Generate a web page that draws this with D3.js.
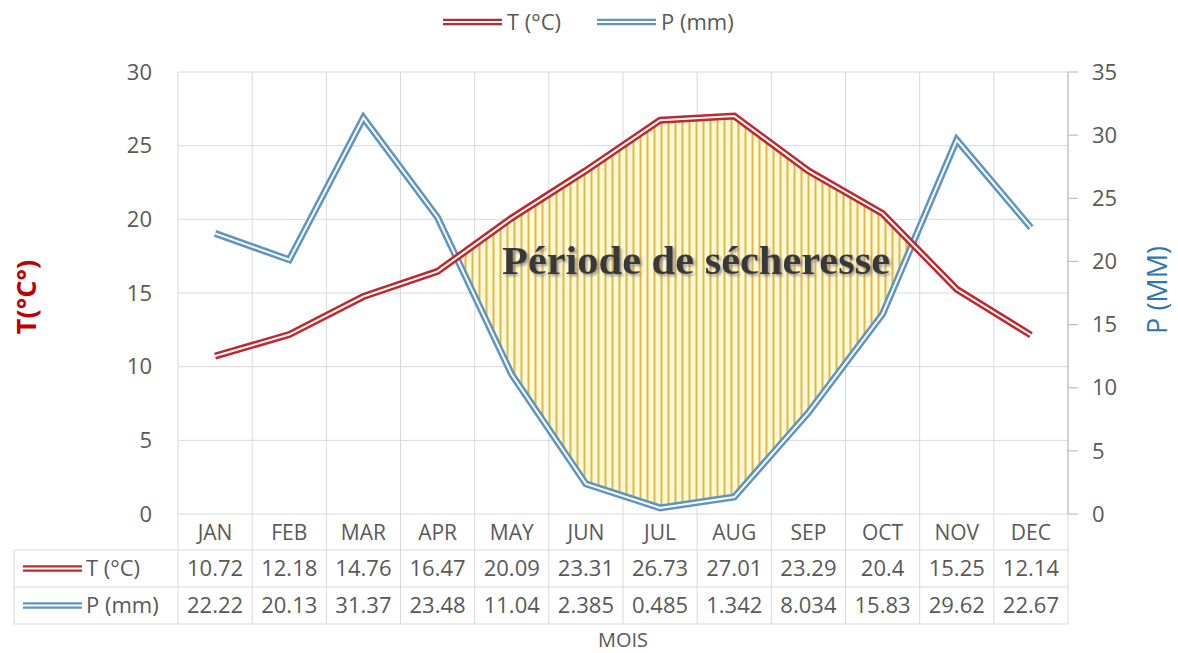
<!DOCTYPE html>
<html><head><meta charset="utf-8">
<script src="https://cdn.jsdelivr.net/npm/d3@7/dist/d3.min.js"></script>
<style>
html,body{margin:0;padding:0;background:#fff;}
svg{display:block;font-family:"Open Sans",sans-serif;}
</style></head>
<body>
<svg id="c" width="1178" height="653"></svg>
<script>
const months = ["JAN","FEB","MAR","APR","MAY","JUN","JUL","AUG","SEP","OCT","NOV","DEC"];
const tempC = [10.72,12.18,14.76,16.47,20.09,23.31,26.73,27.01,23.29,20.4,15.25,12.14];
const precip = [22.22,20.13,31.37,23.48,11.04,2.385,0.485,1.342,8.034,15.83,29.62,22.67];
const tempLabels = ["10.72","12.18","14.76","16.47","20.09","23.31","26.73","27.01","23.29","20.4","15.25","12.14"];
const precipLabels = ["22.22","20.13","31.37","23.48","11.04","2.385","0.485","1.342","8.034","15.83","29.62","22.67"];
const leftTicks = [0,5,10,15,20,25,30];
const rightTicks = [0,5,10,15,20,25,30,35];

const RED = "#c0282d", BLUE = "#5e95c2", TXT = "#595959", GRID = "#d9d9d9";
const svg = d3.select("#c");
const L = 178, R = 1068, T0 = 72, B0 = 514;
const x = d3.scaleBand().domain(months).range([L, R]).padding(0);
const cx = m => x(m) + x.bandwidth()/2;
const yL = d3.scaleLinear().domain([0,30]).range([B0, T0]);
const yR = d3.scaleLinear().domain([0,35]).range([B0, T0]);

// defs
const defs = svg.append("defs");
const pat = defs.append("pattern").attr("id","stripes").attr("patternUnits","userSpaceOnUse")
  .attr("width",7).attr("height",10);
pat.append("rect").attr("width",7).attr("height",10).attr("fill","#fffad6");
pat.append("line").attr("x1",3.5).attr("x2",3.5).attr("y1",0).attr("y2",10)
  .attr("stroke","#e2b64a").attr("stroke-width",2);
const f = defs.append("filter").attr("id","sh").attr("x","-10%").attr("y","-30%").attr("width","120%").attr("height","160%");
f.append("feDropShadow").attr("dx",2).attr("dy",2).attr("stdDeviation",1.6).attr("flood-color","#7a7a7a").attr("flood-opacity",0.8);

// horizontal gridlines
svg.append("g").selectAll("line").data(leftTicks).join("line")
  .attr("x1",L).attr("x2",R).attr("y1",d=>yL(d)).attr("y2",d=>yL(d))
  .attr("stroke",GRID).attr("stroke-width",1);

// table geometry
const rowTops = [514, 550, 587, 624];
const tblLeft = 14;

// vertical gridlines (plot + table)
const bounds = months.map(m => x(m)).concat([R]);
svg.append("g").selectAll("line").data(bounds).join("line")
  .attr("x1",d=>d).attr("x2",d=>d).attr("y1",T0).attr("y2",rowTops[3])
  .attr("stroke",GRID).attr("stroke-width",1);
[rowTops[1], rowTops[2], rowTops[3]].forEach(yv => {
  svg.append("line").attr("x1",tblLeft).attr("x2",R).attr("y1",yv).attr("y2",yv)
    .attr("stroke",GRID).attr("stroke-width",1.2);
});
svg.append("line").attr("x1",tblLeft).attr("x2",tblLeft).attr("y1",rowTops[1]).attr("y2",rowTops[3])
  .attr("stroke",GRID).attr("stroke-width",1.2);

// dry period area: between T (left scale) and P (right scale) where T is above P
const ptsT = months.map((m,i)=>[cx(m), yL(tempC[i])]);
const ptsP = months.map((m,i)=>[cx(m), yR(precip[i])]);
const diff = months.map((m,i)=> ptsT[i][1] - ptsP[i][1]);
let segs = [], cur = null;
for (let i=0;i<months.length;i++){
  if (diff[i] < 0){
    if (!cur){
      cur = {top:[], bot:[]};
      if (i>0){
        const t = diff[i-1]/(diff[i-1]-diff[i]);
        cur.top.push([ptsT[i-1][0] + t*(ptsT[i][0]-ptsT[i-1][0]), ptsT[i-1][1] + t*(ptsT[i][1]-ptsT[i-1][1])]);
      }
    }
    cur.top.push(ptsT[i]); cur.bot.push(ptsP[i]);
    if (i<months.length-1 && diff[i+1] >= 0){
      const t = diff[i]/(diff[i]-diff[i+1]);
      cur.top.push([ptsT[i][0] + t*(ptsT[i+1][0]-ptsT[i][0]), ptsT[i][1] + t*(ptsT[i+1][1]-ptsT[i][1])]);
      segs.push(cur); cur = null;
    }
  }
}
if (cur) segs.push(cur);
segs.forEach(s=>{
  const poly = s.top.concat(s.bot.slice().reverse());
  svg.append("path").attr("d", d3.line()(poly)+"Z").attr("fill","url(#stripes)");
});

// lines (double: colored outer, white inner)
function dbl(pts, color){
  const g = svg.append("g");
  const ln = d3.line();
  g.append("path").attr("d",ln(pts)).attr("fill","none").attr("stroke",color).attr("stroke-width",7).attr("stroke-linejoin","miter");
  g.append("path").attr("d",ln(pts)).attr("fill","none").attr("stroke","#fff").attr("stroke-width",2).attr("stroke-linejoin","miter");
}
dbl(ptsP, BLUE);
dbl(ptsT, RED);

// dry period label
svg.append("text").attr("x",696).attr("y",274).attr("text-anchor","middle")
  .attr("font-family","'Liberation Serif','Times New Roman',serif").attr("font-weight","bold")
  .attr("font-size",39).attr("fill","#383838").attr("filter","url(#sh)")
  .attr("textLength",388).attr("lengthAdjust","spacingAndGlyphs")
  .text("Période de sécheresse");

// left axis labels
svg.append("g").selectAll("text").data(leftTicks).join("text")
  .attr("x",152).attr("y",d=>yL(d)).attr("dy","0.35em").attr("text-anchor","end")
  .attr("font-size",22).attr("fill",TXT).text(d=>d);

// right axis
svg.append("line").attr("x1",R).attr("x2",R).attr("y1",T0).attr("y2",B0).attr("stroke","#bfbfbf").attr("stroke-width",1.2);
svg.append("g").selectAll("line").data(rightTicks).join("line")
  .attr("x1",R).attr("x2",R+10).attr("y1",d=>yR(d)).attr("y2",d=>yR(d)).attr("stroke","#bfbfbf").attr("stroke-width",1.2);
svg.append("g").selectAll("text").data(rightTicks).join("text")
  .attr("x",1092).attr("y",d=>yR(d)).attr("dy","0.35em").attr("text-anchor","start")
  .attr("font-size",22).attr("fill",TXT).text(d=>d);

// axis titles
svg.append("text").attr("transform","translate(36,297) rotate(-90)").attr("text-anchor","middle")
  .attr("font-size",27).attr("font-weight","bold").attr("fill","#c00000").text("T(°C°)");
svg.append("text").attr("transform","translate(1167,290) rotate(-90)").attr("text-anchor","middle")
  .attr("font-size",27).attr("fill","#2e75b6").text("P (MM)");
svg.append("text").attr("x",623).attr("y",647).attr("text-anchor","middle")
  .attr("font-size",20).attr("fill",TXT).text("MOIS");

// table contents
svg.append("g").selectAll("text").data(months).join("text")
  .attr("x",d=>cx(d)).attr("y",(rowTops[0]+rowTops[1])/2).attr("dy","0.36em").attr("text-anchor","middle")
  .attr("font-size",21).attr("fill",TXT).text(d=>d);
svg.append("g").selectAll("text").data(tempLabels).join("text")
  .attr("x",(d,i)=>cx(months[i])).attr("y",(rowTops[1]+rowTops[2])/2).attr("dy","0.36em").attr("text-anchor","middle")
  .attr("font-size",22).attr("fill",TXT).text(d=>d);
svg.append("g").selectAll("text").data(precipLabels).join("text")
  .attr("x",(d,i)=>cx(months[i])).attr("y",(rowTops[2]+rowTops[3])/2).attr("dy","0.36em").attr("text-anchor","middle")
  .attr("font-size",22).attr("fill",TXT).text(d=>d);

function key(x1, x2, yv, color){
  svg.append("line").attr("x1",x1).attr("x2",x2).attr("y1",yv).attr("y2",yv).attr("stroke",color).attr("stroke-width",6.5);
  svg.append("line").attr("x1",x1).attr("x2",x2).attr("y1",yv).attr("y2",yv).attr("stroke","#fff").attr("stroke-width",1.8);
}
const series = [{name:"T (°C)", color:RED}, {name:"P (mm)", color:BLUE}];
series.forEach((s,i)=>{
  const ym = (rowTops[i+1]+rowTops[i+2])/2;
  key(23, 82, ym, s.color);
  svg.append("text").attr("x",86).attr("y",ym).attr("dy","0.36em").attr("font-size",22).attr("fill",TXT).text(s.name);
});

// legend at top
const legX = [443, 597];
series.forEach((s,i)=>{
  key(legX[i], legX[i]+59, 22, s.color);
  svg.append("text").attr("x",legX[i]+64).attr("y",22).attr("dy","0.36em").attr("font-size",22).attr("fill",TXT).text(s.name);
});
</script>
</body></html>
